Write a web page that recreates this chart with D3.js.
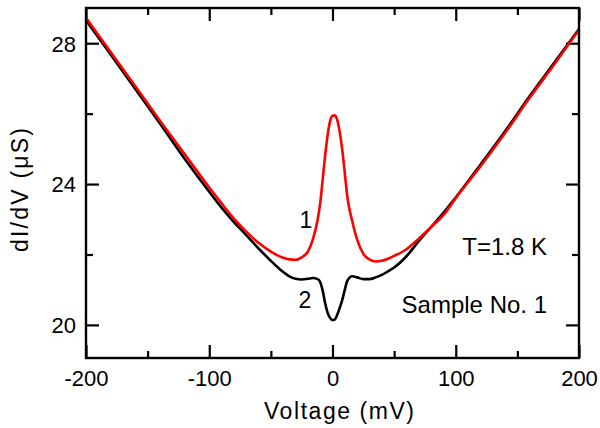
<!DOCTYPE html>
<html>
<head>
<meta charset="utf-8">
<script src="https://cdn.jsdelivr.net/npm/d3@7"></script>
<style>
	body { margin: 0; background: #fff; }
	text { font-family: "Liberation Sans", Arial, sans-serif; fill: #000; }
</style>
</head>
<body>
<div class="chart"></div>
<script>
// bias voltage, mV
const voltage = [-200, -180, -160, -140, -120, -100, -90, -80, -70, -60, -50, -45, -40, -35, -30, -25, -20, -16, -12, -10, -8, -6, -4, -2, 0, 2, 4, 6, 8, 10, 12, 16, 20, 25, 30, 35, 40, 45, 50, 60, 70, 80, 90, 100, 120, 140, 160, 180, 200];

// curve 1 (red), dI/dV in uS
const curve1 = [28.72, 27.75, 26.78, 25.80, 24.85, 23.90, 23.45, 23.02, 22.65, 22.33, 22.08, 21.98, 21.91, 21.86, 21.85, 21.92, 22.08, 22.42, 23.00, 23.45, 24.12, 24.80, 25.38, 25.78, 25.94, 25.95, 25.80, 25.45, 24.95, 24.30, 23.65, 22.95, 22.42, 22.02, 21.86, 21.80, 21.82, 21.88, 21.96, 22.15, 22.45, 22.78, 23.12, 23.60, 24.50, 25.45, 26.45, 27.40, 28.38];

// curve 2 (black)
const curve2 = [28.65, 27.68, 26.70, 25.72, 24.72, 23.78, 23.33, 22.92, 22.55, 22.17, 21.82, 21.65, 21.50, 21.38, 21.31, 21.29, 21.31, 21.33, 21.30, 21.22, 20.98, 20.62, 20.35, 20.20, 20.14, 20.16, 20.30, 20.50, 20.72, 21.00, 21.25, 21.38, 21.35, 21.30, 21.30, 21.35, 21.42, 21.52, 21.63, 21.95, 22.38, 22.78, 23.18, 23.62, 24.55, 25.50, 26.50, 27.45, 28.40];

const xTicks = [-200, -100, 0, 100, 200];
const xTickLabels = ["-200", "-100", "0", "100", "200"];
const xMinor = [-150, -50, 50, 150];
const yTicks = [20, 24, 28];
const yTickLabels = ["20", "24", "28"];
const yMinor = [22, 26];

(function () {
	drawChart();
}());

function drawChart() {

	const widthSVG = 600,
		heightSVG = 428;
	const margin = {top: 8, right: 21, bottom: 70, left: 86};
	const width = widthSVG - margin.left - margin.right;
	const height = heightSVG - margin.top - margin.bottom;

	const svg = d3.select(".chart").append("svg")
		.attr("width", widthSVG)
		.attr("height", heightSVG);

	const chart = svg.append("g")
		.attr("transform", "translate(" + margin.left + "," + margin.top + ")");

	const x = d3.scaleLinear().domain([-200, 200]).range([0, width]);
	const y = d3.scaleLinear().domain([19.06, 29]).range([height, 0]);

	const major = 13, minor = 7;

	// bottom axis with labels
	const bottom = chart.append("g")
		.attr("transform", "translate(0," + height + ")")
		.call(d3.axisBottom(x).tickValues(xTicks).tickSize(-major)
			.tickFormat(function (d, i) { return xTickLabels[i]; }));
	bottom.selectAll("text").attr("y", 12).attr("dy", "0.71em").style("font-size", "22px");
	chart.append("g")
		.attr("transform", "translate(0," + height + ")")
		.call(d3.axisBottom(x).tickValues(xMinor).tickSize(-minor).tickFormat(""));

	// top axis, ticks only
	chart.append("g").call(d3.axisTop(x).tickValues(xTicks).tickSize(-major).tickFormat(""));
	chart.append("g").call(d3.axisTop(x).tickValues(xMinor).tickSize(-minor).tickFormat(""));

	// left axis with labels
	const left = chart.append("g")
		.call(d3.axisLeft(y).tickValues(yTicks).tickSize(-major)
			.tickFormat(function (d, i) { return yTickLabels[i]; }));
	left.selectAll("text").attr("x", -10).attr("dy", "0.36em").style("font-size", "22px");
	chart.append("g").call(d3.axisLeft(y).tickValues(yMinor).tickSize(-minor).tickFormat(""));

	// right axis, ticks only
	chart.append("g")
		.attr("transform", "translate(" + width + ",0)")
		.call(d3.axisRight(y).tickValues(yTicks).tickSize(-major).tickFormat(""));
	chart.append("g")
		.attr("transform", "translate(" + width + ",0)")
		.call(d3.axisRight(y).tickValues(yMinor).tickSize(-minor).tickFormat(""));

	chart.selectAll(".domain").remove();
	chart.selectAll(".tick line").attr("stroke", "#000").attr("stroke-width", 2.2);

	// curves
	const line = d3.line()
		.x(function (d) { return x(d[0]); })
		.y(function (d) { return y(d[1]); })
		.curve(d3.curveMonotoneX);

	chart.append("path")
		.datum(d3.zip(voltage, curve2))
		.attr("fill", "none")
		.attr("stroke", "#000")
		.attr("stroke-width", 2.6)
		.attr("d", line);

	chart.append("path")
		.datum(d3.zip(voltage, curve1))
		.attr("fill", "none")
		.attr("stroke", "#ff0000")
		.attr("stroke-width", 2.6)
		.attr("d", line);

	// frame
	chart.append("rect")
		.attr("width", width)
		.attr("height", height)
		.attr("fill", "none")
		.attr("stroke", "#000")
		.attr("stroke-width", 2.4);

	// labels
	svg.append("text")
		.attr("x", 339)
		.attr("y", 419)
		.attr("text-anchor", "middle")
		.attr("textLength", 150)
		.style("font-size", "23px")
		.text("Voltage (mV)");

	svg.append("text")
		.attr("transform", "translate(28,190) rotate(-90)")
		.attr("text-anchor", "middle")
		.attr("textLength", 124)
		.style("font-size", "23px")
		.text("dI/dV (\u03bcS)");

	svg.append("text")
		.attr("x", 547)
		.attr("y", 255)
		.attr("text-anchor", "end")
		.style("font-size", "24px")
		.text("T=1.8 K");

	svg.append("text")
		.attr("x", 547)
		.attr("y", 313)
		.attr("text-anchor", "end")
		.style("font-size", "24px")
		.text("Sample No. 1");

	svg.append("text")
		.attr("x", 306)
		.attr("y", 228)
		.attr("text-anchor", "middle")
		.style("font-size", "23px")
		.text("1");

	svg.append("text")
		.attr("x", 305)
		.attr("y", 308)
		.attr("text-anchor", "middle")
		.style("font-size", "23px")
		.text("2");
}
</script>
</body>
</html>
